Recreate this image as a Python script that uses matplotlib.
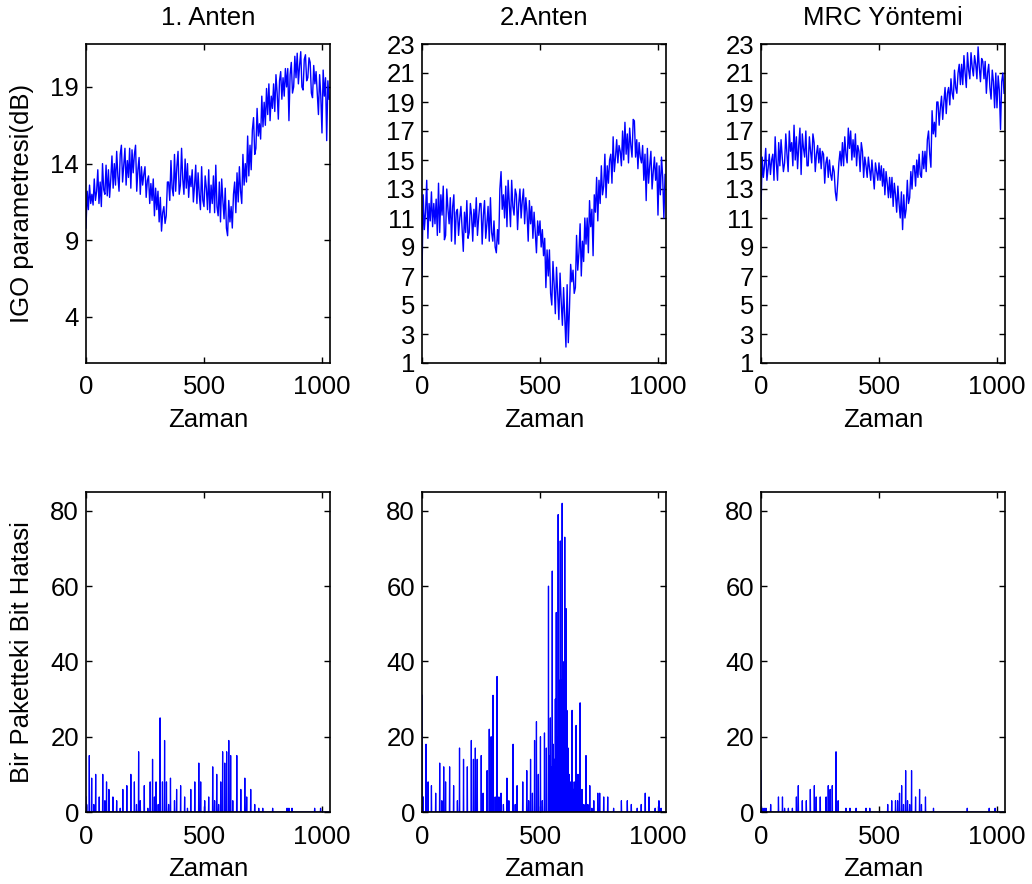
import numpy as np
import matplotlib
matplotlib.use("Agg")
import matplotlib.pyplot as plt

plt.rcParams['font.family'] = ['Liberation Sans', 'DejaVu Sans']

# ---- data ----
titles = ["1. Anten", "2.Anten", "MRC Yöntemi"]
xlabel = "Zaman"
ylabel_top = "IGO parametresi(dB)"
ylabel_bot = "Bir Paketteki Bit Hatasi"

t_top = list(range(0, 1031, 5))

igo_ant1 = [9.8, 12.2, 11.0, 12.6, 11.4, 12.0, 11.3, 13.0, 11.6, 12.2,
            13.6, 11.4, 12.8, 11.2, 14.0, 12.3, 12.0, 13.9, 11.9, 13.6,
            11.8, 13.0, 14.5, 12.4, 14.0, 12.6, 14.8, 13.2, 12.2, 14.6,
            15.2, 12.8, 13.9, 15.0, 12.6, 14.2, 13.1, 15.0, 12.4, 14.9,
            13.4, 14.6, 15.2, 12.2, 13.6, 14.4, 12.0, 13.8, 12.6, 13.3,
            13.8, 11.8, 12.9, 13.2, 11.4, 12.7, 11.6, 13.0, 10.6, 12.4,
            11.0, 12.2, 10.2, 11.8, 9.6, 10.8, 11.2, 10.1, 10.6, 12.8,
            12.8, 11.6, 14.2, 12.4, 11.9, 14.6, 12.2, 13.8, 14.8, 12.0,
            12.6, 15.0, 13.0, 12.0, 14.3, 12.4, 14.0, 11.8, 13.2, 12.5,
            13.6, 11.5, 12.6, 13.9, 11.4, 13.4, 12.0, 11.0, 13.8, 11.6,
            11.2, 13.2, 12.4, 11.0, 13.6, 10.8, 12.6, 11.4, 13.2, 10.8,
            13.9, 11.2, 10.6, 12.8, 10.2, 13.0, 11.6, 10.4, 12.4, 9.8,
            9.3, 11.6, 10.2, 11.2, 9.8, 12.0, 12.8, 10.8, 13.4, 11.5,
            13.8, 12.2, 11.4, 14.6, 12.6, 14.0, 12.8, 15.8, 13.2, 15.2,
            13.6, 16.2, 17.0, 14.6, 15.0, 17.6, 15.8, 16.6, 15.6, 18.4,
            16.4, 18.0, 16.5, 18.9, 17.2, 19.2, 16.8, 18.4, 17.6, 19.2,
            17.4, 19.8, 18.6, 16.9, 19.4, 20.0, 18.2, 19.6, 18.4, 20.2,
            19.0, 20.2, 16.8, 19.8, 20.6, 18.6, 19.0, 21.0, 19.6, 21.2,
            19.2, 20.4, 21.3, 19.0, 18.8, 20.8, 21.1, 19.4, 19.6, 20.9,
            20.6, 18.6, 18.3, 20.4, 19.2, 20.0, 18.6, 17.2, 19.8, 18.4,
            16.0, 20.1, 18.4, 19.6, 15.5, 19.4, 18.2]

igo_ant2 = [6.9, 12.6, 10.2, 11.4, 13.6, 9.6, 12.0, 10.8, 12.8, 10.4,
            12.0, 10.6, 12.3, 9.8, 13.4, 10.0, 12.6, 11.2, 13.2, 9.5,
            9.8, 13.0, 11.6, 10.6, 12.4, 9.4, 11.8, 12.6, 9.2, 11.4,
            11.6, 9.8, 11.0, 11.8, 10.2, 8.7, 11.4, 10.0, 12.2, 9.6,
            10.0, 12.0, 11.2, 9.4, 11.6, 10.4, 12.4, 9.8, 11.0, 12.0,
            12.0, 9.2, 11.2, 12.2, 9.6, 10.6, 11.8, 9.4, 12.4, 10.0,
            9.4, 10.8, 9.0, 8.6, 10.2, 9.2, 13.0, 14.2, 11.6, 12.6,
            11.0, 13.2, 10.4, 13.6, 12.0, 10.4, 13.6, 11.8, 11.2, 13.0,
            12.6, 10.2, 12.0, 13.0, 11.0, 12.2, 13.0, 10.6, 12.4, 11.4,
            9.4, 12.2, 10.6, 11.8, 9.6, 11.4, 10.0, 8.6, 10.8, 9.8,
            10.8, 9.0, 10.2, 8.4, 9.6, 6.2, 8.8, 7.0, 8.8, 5.8,
            5.0, 8.0, 6.4, 4.4, 7.6, 5.8, 4.0, 7.2, 5.2, 3.6,
            6.2, 4.2, 2.1, 6.4, 2.4, 4.8, 7.8, 6.6, 7.4, 5.8,
            6.2, 9.8, 7.4, 8.6, 10.6, 7.0, 9.4, 8.0, 11.0, 9.2,
            11.0, 8.6, 12.2, 10.4, 11.6, 8.4, 12.6, 11.4, 13.8, 10.8,
            13.6, 12.0, 14.6, 12.6, 13.2, 15.4, 12.4, 14.6, 13.4, 15.0,
            15.4, 13.4, 16.6, 14.2, 15.2, 16.4, 14.8, 16.0, 15.6, 14.6,
            17.0, 15.0, 17.6, 15.4, 16.8, 14.8, 17.2, 16.0, 15.2, 17.8,
            17.7, 15.2, 16.4, 14.4, 16.2, 15.2, 14.8, 16.0, 13.6, 15.4,
            12.2, 15.8, 13.4, 14.6, 15.6, 13.0, 14.2, 15.2, 13.6, 14.8,
            11.2, 14.6, 12.6, 15.2, 13.8, 11.0, 14.0]

igo_mrc = [11.6, 15.2, 13.8, 14.6, 15.8, 13.6, 14.4, 15.4, 14.0, 15.0,
           15.4, 13.6, 16.6, 14.8, 13.6, 16.2, 14.6, 16.4, 15.2, 14.2,
           14.8, 16.8, 15.4, 14.2, 17.0, 15.6, 16.2, 14.6, 17.4, 15.0,
           16.6, 14.4, 16.0, 17.2, 14.0, 16.8, 15.8, 15.2, 17.0, 14.6,
           14.6, 16.6, 15.6, 14.8, 16.8, 16.2, 14.2, 15.4, 16.0, 14.8,
           15.8, 14.4, 15.6, 15.4, 13.4, 14.8, 15.2, 13.8, 15.0, 14.0,
           13.6, 14.6, 14.2, 12.8, 12.2, 13.4, 14.8, 15.6, 14.6, 16.2,
           14.6, 16.6, 15.4, 14.8, 17.2, 15.8, 17.0, 15.0, 16.4, 15.2,
           16.8, 14.6, 16.0, 15.6, 14.2, 16.2, 15.6, 13.8, 15.2, 14.6,
           13.8, 15.2, 14.4, 13.6, 15.0, 14.0, 13.0, 14.8, 14.2, 13.6,
           14.8, 13.6, 14.6, 13.2, 14.4, 12.6, 14.2, 13.4, 12.4, 13.8,
           12.4, 13.8, 11.8, 13.4, 12.6, 11.4, 13.2, 12.0, 11.0, 12.8,
           10.2, 12.6, 11.0, 11.6, 13.6, 12.0, 12.4, 14.2, 13.0, 14.6,
           14.6, 13.2, 15.0, 13.8, 15.4, 14.0, 13.8, 15.6, 14.4, 15.6,
           14.2, 16.4, 17.0, 15.4, 14.5, 18.4, 16.8, 17.6, 16.6, 19.0,
           19.0, 17.4, 18.6, 19.4, 17.8, 19.0, 20.0, 18.2, 19.6, 20.0,
           18.8, 20.6, 19.6, 19.2, 21.2, 20.0, 19.6, 21.0, 21.6, 20.2,
           21.6, 20.2, 22.2, 21.0, 20.0, 22.4, 21.2, 20.6, 22.4, 21.4,
           20.8, 22.2, 21.6, 20.6, 22.8, 21.4, 20.4, 22.0, 21.8, 20.6,
           21.8, 19.6, 21.0, 21.6, 20.0, 19.2, 21.2, 20.4, 18.6, 21.0,
           18.6, 20.8, 19.8, 17.1, 20.4, 21.0, 19.6]

# bit errors per packet: (time index, count) of nonzero samples
n_samples = 1031
err_ant1_t = [0, 3, 14, 24, 33, 41, 56, 71, 80, 87, 97, 114, 130, 145, 156, 173, 190, 205, 214, 223,
              230, 247, 262, 272, 282, 290, 297, 306, 314, 324, 333, 341, 350, 358, 375, 384, 401, 418, 430, 444,
              461, 478, 486, 503, 520, 537, 545, 554, 562, 571, 579, 588, 596, 605, 613, 622, 639, 656, 673, 681,
              698, 715, 732, 749, 791, 852, 860, 873, 969, 994]
err_ant1_v = [4, 2, 15, 9, 2, 10, 4, 10, 3, 8, 6, 4, 3, 1, 6, 7, 10, 8, 2, 16,
              3, 7, 1, 8, 14, 4, 8, 2, 25, 8, 19, 8, 2, 9, 3, 6, 7, 4, 1, 6,
              8, 13, 8, 3, 4, 12, 3, 10, 2, 8, 16, 13, 16, 19, 15, 3, 15, 6, 9, 4,
              6, 2, 1, 1, 1, 1, 1, 1, 1, 1]

err_ant2_t = [0, 3, 5, 17, 26, 40, 58, 75, 84, 92, 100, 117, 134, 150, 159, 176, 192, 209, 218, 226,
              234, 251, 259, 276, 285, 293, 301, 310, 318, 326, 335, 345, 360, 368, 386, 395, 403, 427, 444, 452,
              460, 468, 477, 485, 493, 502, 510, 519, 527, 536, 540, 544, 548, 552, 556, 561, 565, 569, 573, 577,
              581, 586, 589, 594, 597, 600, 605, 608, 611, 614, 619, 623, 628, 632, 636, 640, 645, 649, 653, 657,
              661, 665, 670, 674, 678, 686, 695, 703, 711, 720, 728, 745, 753, 770, 787, 812, 845, 870, 887, 912,
              929, 946, 962, 988, 1004, 1013]
err_ant2_v = [31, 4, 4, 18, 8, 7, 5, 13, 3, 12, 8, 12, 7, 3, 17, 14, 12, 19, 14, 17,
              14, 15, 5, 11, 22, 20, 31, 4, 36, 4, 5, 2, 9, 3, 18, 2, 7, 8, 11, 3,
              14, 5, 19, 24, 10, 20, 3, 21, 17, 60, 15, 25, 12, 64, 18, 14, 30, 53, 20, 79,
              35, 72, 35, 82, 40, 35, 73, 30, 54, 27, 17, 10, 8, 4, 27, 6, 8, 3, 23, 5,
              10, 4, 29, 3, 6, 2, 15, 2, 7, 1, 3, 5, 5, 4, 4, 1, 3, 3, 2, 1,
              2, 5, 4, 1, 3, 1]

err_mrc_t = [0, 4, 13, 21, 41, 74, 91, 100, 116, 133, 150, 158, 175, 192, 209, 226, 234, 251, 276, 285,
             293, 302, 318, 327, 360, 377, 403, 445, 461, 537, 554, 570, 579, 587, 596, 604, 613, 621, 630, 638,
             655, 672, 680, 697, 731, 874, 967, 992]
err_mrc_v = [11, 1, 1, 1, 2, 4, 4, 1, 1, 1, 4, 7, 3, 3, 6, 7, 4, 4, 4, 7,
             6, 7, 16, 3, 1, 1, 1, 1, 1, 2, 3, 3, 3, 5, 7, 2, 11, 3, 2, 11,
             4, 6, 2, 4, 1, 1, 1, 1]


def build_errors(idx, vals):
    y = np.zeros(n_samples)
    y[np.array(idx)] = np.array(vals, dtype=float)
    return y


top_series = [igo_ant1, igo_ant2, igo_mrc]
bot_series = [build_errors(err_ant1_t, err_ant1_v),
              build_errors(err_ant2_t, err_ant2_v),
              build_errors(err_mrc_t, err_mrc_v)]

# ---- figure ----
W, H = 1032, 884
fig = plt.figure(figsize=(W / 100, H / 100), dpi=100)
lefts = [86, 422, 761]
aw = 244
top_y0, top_y1 = 44, 363
bot_y0, bot_y1 = 492, 812

FS = 18.5
blue = (0, 0, 1)


def style(ax):
    ax.tick_params(direction='in', top=True, right=True, length=4, width=1,
                   labelsize=FS)
    ax.tick_params(axis='x', pad=9)
    ax.tick_params(axis='y', pad=5)
    for s in ax.spines.values():
        s.set_linewidth(1.2)
    ax.set_xlim(0, 1034)
    ax.set_xticks([0, 500, 1000])


for i in range(3):
    ax = fig.add_axes([lefts[i] / W, 1 - top_y1 / H, aw / W, (top_y1 - top_y0) / H])
    ax.plot(t_top, top_series[i], color=blue, lw=1.0)
    style(ax)
    if i == 0:
        ax.set_ylim(1, 21.8)
        ax.set_yticks([4, 9, 14, 19])
        ax.set_ylabel(ylabel_top, fontsize=FS, labelpad=12)
    else:
        ax.set_ylim(1, 23)
        ax.set_yticks(list(range(1, 24, 2)))
    ax.set_title(titles[i], fontsize=FS, pad=14)
    ax.set_xlabel(xlabel, fontsize=FS, labelpad=6)

    axb = fig.add_axes([lefts[i] / W, 1 - bot_y1 / H, aw / W, (bot_y1 - bot_y0) / H])
    axb.plot(np.arange(n_samples), bot_series[i], color=blue, lw=0.9)
    style(axb)
    axb.set_ylim(0, 85)
    axb.set_yticks([0, 20, 40, 60, 80])
    axb.set_xlabel(xlabel, fontsize=FS, labelpad=6)
    if i == 0:
        axb.set_ylabel(ylabel_bot, fontsize=FS, labelpad=12)

fig.savefig("out.png", dpi=100)
